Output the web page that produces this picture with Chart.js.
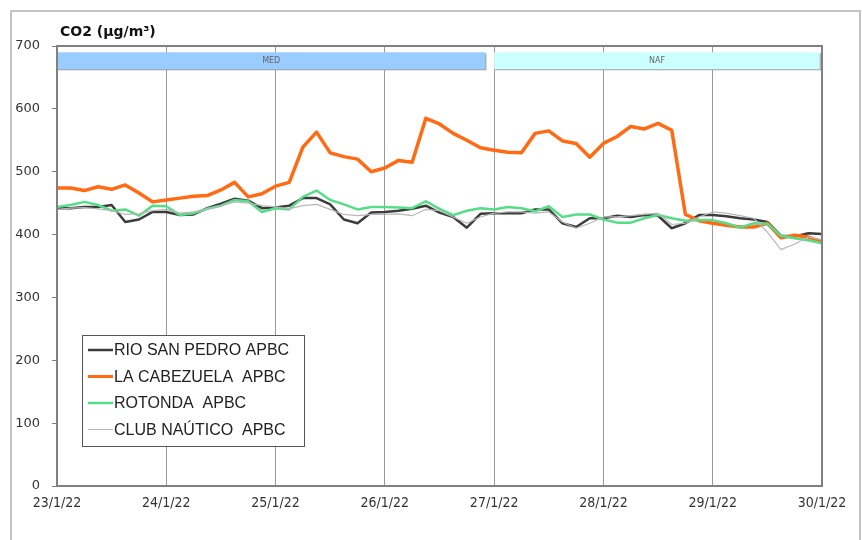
<!DOCTYPE html>
<html>
<head>
<meta charset="utf-8">
<script src="https://cdn.jsdelivr.net/npm/chart.js@4.4.0/dist/chart.umd.min.js"></script>
<style>
  html, body { margin: 0; padding: 0; background: #fff; }
</style>
</head>
<body>
<canvas id="co2-chart" width="862" height="540"></canvas>
<script>
const dayLabels = ["23/1/22", "24/1/22", "25/1/22", "26/1/22", "27/1/22", "28/1/22", "29/1/22", "30/1/22"];
const seriesNames = ["RIO SAN PEDRO APBC", "LA CABEZUELA  APBC", "ROTONDA  APBC", "CLUB NAÚTICO  APBC"];
const stepHours = 3; // one reading every 3 hours

const rioSanPedro = [442, 442, 444, 444, 447, 420, 424, 436,
  436, 431, 432, 442, 449, 457, 454, 442,
  443, 446, 458, 458, 448, 424, 418, 435,
  436, 438, 441, 446, 435, 428, 411, 433,
  434, 434, 434, 440, 440, 418, 412, 426,
  426, 430, 428, 431, 430, 410, 418, 431,
  431, 429, 426, 424, 420, 398, 397, 402,
  401];
const laCabezuela = [474, 474, 470, 476, 472, 479, 466, 452,
  455, 458, 461, 462, 471, 483, 460, 465,
  477, 483, 539, 563, 530, 524, 520, 500,
  506, 518, 515, 585, 576, 561, 550, 538,
  534, 531, 530, 561, 565, 549, 545, 523,
  545, 556, 572, 568, 577, 566, 432, 422,
  418, 415, 412, 412, 418, 395, 399, 396,
  388];
const rotonda = [444, 447, 452, 447, 438, 440, 430, 446,
  445, 431, 434, 441, 446, 455, 453, 436,
  442, 440, 460, 470, 455, 448, 440, 444,
  444, 443, 442, 453, 441, 431, 438, 442,
  440, 444, 442, 437, 445, 428, 432, 432,
  424, 419, 419, 426, 431, 426, 422, 423,
  423, 418, 411, 418, 417, 398, 394, 391,
  386];
const clubNautico = [440, 442, 443, 441, 438, 432, 433, 438,
  440, 434, 436, 440, 446, 452, 450, 446,
  444, 441, 446, 448, 440, 432, 430, 432,
  432, 433, 430, 440, 438, 428, 418, 428,
  434, 436, 436, 434, 436, 420, 410, 418,
  428, 428, 430, 432, 434, 416, 418, 428,
  436, 434, 430, 426, 404, 376, 385, 396,
  392];

// air-mass periods shown as bands at the top (in days from 23/1/22)
const periodLabels = ["MED", "NAF"];
const periodStart = [0, 4];
const periodEnd = [3.92, 6.98];
const periodColors = ["#99CCFF", "#CCFFFF"];

function toPoints(values) {
  return values.map((v, i) => ({ x: i * stepHours / 24, y: v }));
}

const lineColors = ["#3c3c3c", "#FF6A12", "#55DD88", "#b8b8b8"];
const lineWidths = [2.5, 3.5, 2.5, 1.2];
const allSeries = [rioSanPedro, laCabezuela, rotonda, clubNautico];

const decor = {
  id: "decor",
  beforeDraw(chart) {
    const ctx = chart.ctx;
    ctx.save();
    ctx.fillStyle = "#fff";
    ctx.fillRect(0, 0, chart.width, chart.height);
    ctx.strokeStyle = "#c4c4c4";
    ctx.lineWidth = 2;
    ctx.strokeRect(11, 11, chart.width - 13, chart.height + 20);
    ctx.restore();
  },
  beforeDatasetsDraw(chart) {
    const ctx = chart.ctx;
    const xs = chart.scales.x;
    const ys = chart.scales.y;
    const top = ys.getPixelForValue(690);
    const bottom = ys.getPixelForValue(663);
    ctx.save();
    periodLabels.forEach((label, i) => {
      const left = xs.getPixelForValue(periodStart[i]);
      const right = xs.getPixelForValue(periodEnd[i]);
      ctx.fillStyle = "#a0a0a0";
      ctx.fillRect(left + 1, top + 1, right - left, bottom - top);
      ctx.fillStyle = periodColors[i];
      ctx.fillRect(left, top, right - left, bottom - top);
      ctx.fillStyle = "#666";
      ctx.font = "8px 'DejaVu Sans'";
      ctx.textAlign = "center";
      ctx.textBaseline = "middle";
      ctx.fillText(label, (left + right) / 2, (top + bottom) / 2);
    });
    ctx.restore();
  },
  afterDatasetsDraw(chart) {
    const ctx = chart.ctx;
    const a = chart.chartArea;
    ctx.save();
    // plot frame
    ctx.strokeStyle = "#808080";
    ctx.lineWidth = 2;
    ctx.strokeRect(a.left, a.top, a.right - a.left, a.bottom - a.top);

    // title
    ctx.fillStyle = "#111";
    ctx.font = "bold 14px 'DejaVu Sans'";
    ctx.textAlign = "left";
    ctx.textBaseline = "alphabetic";
    ctx.fillText("CO2 (µg/m³)", a.left + 3, a.top - 10);

    // legend box
    const lx = 82, ly = 335, lw = 222, lh = 111;
    ctx.fillStyle = "#fff";
    ctx.fillRect(lx, ly, lw, lh);
    ctx.strokeStyle = "#555";
    ctx.lineWidth = 1;
    ctx.strokeRect(lx + 0.5, ly + 0.5, lw, lh);
    ctx.font = "16px 'Liberation Sans'";
    ctx.textBaseline = "middle";
    seriesNames.forEach((name, i) => {
      const y = ly + 15 + i * 26.5;
      ctx.strokeStyle = lineColors[i];
      ctx.lineWidth = i === 1 ? 3 : (i === 3 ? 1 : 2.5);
      ctx.beginPath();
      ctx.moveTo(lx + 6, y);
      ctx.lineTo(lx + 31, y);
      ctx.stroke();
      ctx.fillStyle = "#222";
      ctx.fillText(name, lx + 32, y + 1);
    });
    ctx.restore();
  }
};

const chart = new Chart(document.getElementById("co2-chart").getContext("2d"), {
  type: "line",
  data: {
    datasets: allSeries.map((values, i) => ({
      label: seriesNames[i],
      data: toPoints(values),
      borderColor: lineColors[i],
      borderWidth: lineWidths[i],
      pointRadius: 0,
      tension: 0,
      borderJoinStyle: "round",
      order: 4 - i
    }))
  },
  options: {
    responsive: false,
    animation: false,
    layout: { padding: { top: 46, right: 40, bottom: 0, left: 0 } },
    plugins: {
      legend: { display: false },
      title: { display: false },
      tooltip: { enabled: false }
    },
    scales: {
      x: {
        type: "linear",
        min: 0,
        max: 7,
        afterFit: s => { s.height = 54; },
        grid: { color: "#9a9a9a", lineWidth: 1, drawTicks: false },
        border: { display: false },
        ticks: {
          stepSize: 1,
          autoSkip: false,
          maxRotation: 0,
          padding: 9,
          color: "#333",
          font: { family: "'DejaVu Sans Condensed', 'DejaVu Sans'", size: 14 },
          callback: v => dayLabels[v]
        }
      },
      y: {
        min: 0,
        max: 700,
        afterFit: s => { s.width = 57; },
        grid: { drawOnChartArea: false, tickLength: 5, color: "#808080" },
        border: { display: false },
        ticks: {
          stepSize: 100,
          padding: 12,
          color: "#333",
          font: { family: "'DejaVu Sans'", size: 13 }
        }
      }
    }
  },
  plugins: [decor]
});
</script>
</body>
</html>
